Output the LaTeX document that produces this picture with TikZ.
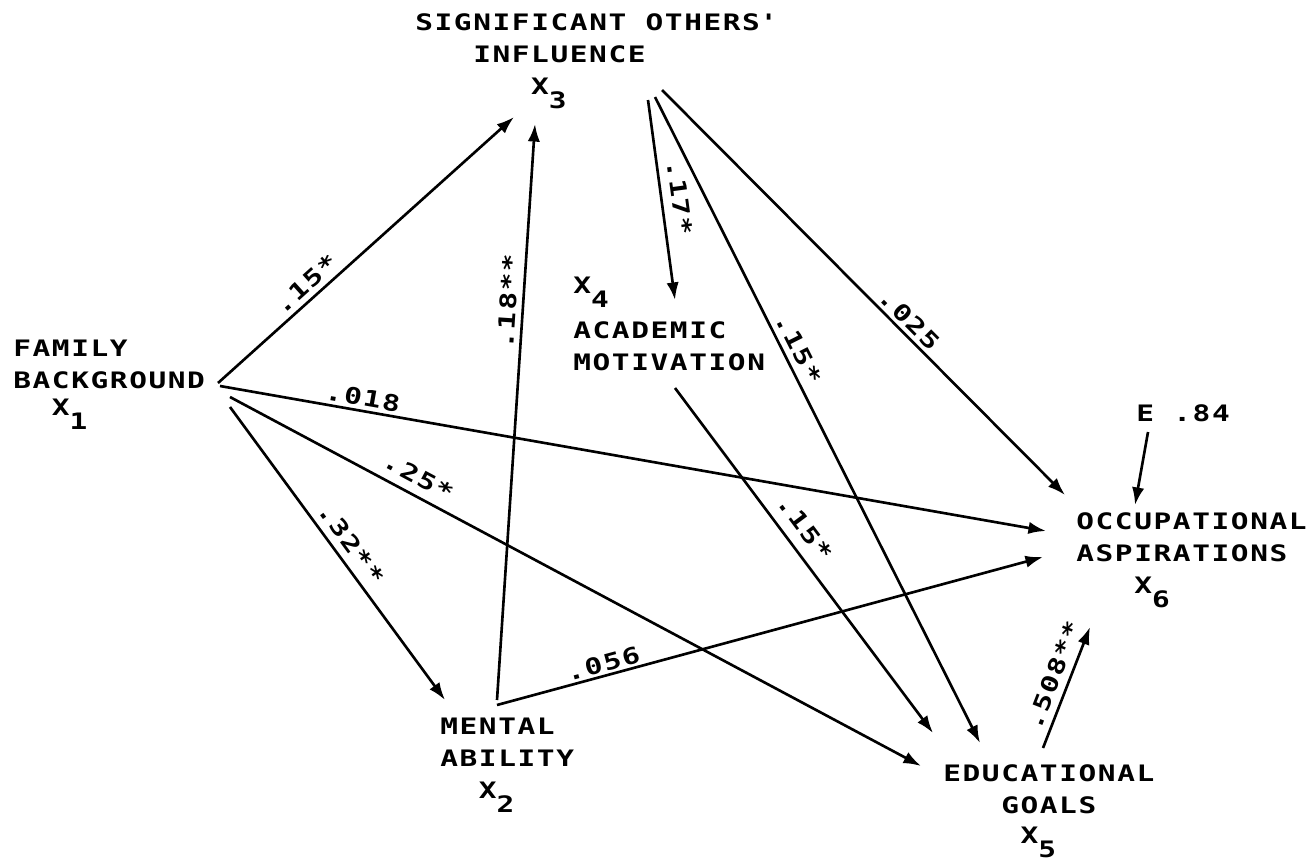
\documentclass[tikz,border=0pt]{standalone}
\usepackage{fontspec}
\usepackage{tikz}
\usetikzlibrary{arrows.meta}
\newfontfamily\plotfont{DejaVu Sans Mono}[LetterSpace=7,FakeStretch=1.3]
\newlength\cw
\setlength\cw{10.99pt}
\newcommand\subn[1]{\raisebox{-8pt}[0pt][0pt]{#1}}

\tikzset{
  var/.style={anchor=north west, inner sep=0pt, align=left,
    font=\plotfont\bfseries\fontsize{12.9}{18.2}\selectfont},
  coef/.style={inner sep=0pt, sloped, font=\plotfont\bfseries\fontsize{12.9}{15}\selectfont},
  link/.style={-{Latex[length=10pt,width=7pt]}, line width=1.5pt}
}

\begin{document}
\begin{tikzpicture}[x=0.02cm, y=-0.02cm]
            \useasboundingbox (0,0) rectangle (1314,862);

            \node[var] (fam) at (13,340) {FAMILY\\BACKGROUND\\[-3pt]\hspace*{2\cw}X\subn{1}};
            \node[var] (sig) at (415,13) {SIGNIFICANT\hspace{\cw}OTHERS\textquotesingle\\\hspace*{3\cw}INFLUENCE\\\hspace*{6\cw}X\subn{3}};
            \node[var] (aca) at (573,277) {X\subn{4}\\[7.4pt]ACADEMIC\\MOTIVATION};
            \node[var] (men) at (440,718) {MENTAL\\ABILITY\\\hspace*{2\cw}X\subn{2}};
            \node[var] (edu) at (943,764) {EDUCATIONAL\\\hspace*{3\cw}GOALS\\[-1pt]\hspace*{4\cw}X\subn{5}};
            \node[var] (occ) at (1076,512) {OCCUPATIONAL\\ASPIRATIONS\\\hspace*{3\cw}X\subn{6}};
            \node[var] (err) at (1136,404) {E\hspace{\cw}.84};

            \coordinate (F1) at (218,383);
            \coordinate (F2) at (220,386);
            \coordinate (F3) at (230,397);
            \coordinate (F4) at (230,407);

            \coordinate (S1) at (514,117);
            \coordinate (S2) at (535,124);
            \coordinate (S3) at (648,100);
            \coordinate (S4) at (655,97);
            \coordinate (S5) at (662,90);

            \coordinate (M1) at (445,700);
            \coordinate (M2) at (497,700);
            \coordinate (M3) at (497,705);

            \coordinate (A1) at (675,300);
            \coordinate (A2) at (675,388);

            \coordinate (G1) at (921,766);
            \coordinate (G2) at (933,733);
            \coordinate (G3) at (980,743);
            \coordinate (G4) at (1043,748);

            \coordinate (O1) at (1046,531);
            \coordinate (O2) at (1043,557);
            \coordinate (O3) at (1065,495);
            \coordinate (O4) at (1090,627);
            \coordinate (O5) at (1135,505);
            \coordinate (E1) at (1148,432);

            \draw[link] (F1) -- node[coef, pos=.33, above=3pt] (c13) {.15*} (S1);
            \draw[link] (F2) -- node[coef, pos=.17, above=2pt] (c16) {.018} (O1);
            \draw[link] (F3) -- node[coef, pos=.26, above=5pt] (c15) {.25*} (G1);
            \draw[link] (F4) -- node[coef, pos=.5, above=4pt] (c12) {.32**} (M1);
            \draw[link] (M2) -- node[coef, pos=.69, above=3pt] (c23) {.18**} (S2);
            \draw[link] (M3) -- node[coef, pos=.2, above=1.5pt] (c26) {.056} (O2);
            \draw[link] (S3) -- node[coef, pos=.5, above=5pt] (c34) {.17*} (A1);
            \draw[link] (S4) -- node[coef, pos=.4, above=3pt] (c35) {.15*} (G3);
            \draw[link] (S5) -- node[coef, pos=.59, above=2pt] (c36) {.025} (O3);
            \draw[link] (A2) -- node[coef, pos=.44, above=6pt] (c45) {.15*} (G2);
            \draw[link] (G4) -- node[coef, pos=.55, above=4pt] (c56) {.508**} (O4);
            \draw[link] (E1) -- (O5);
\end{tikzpicture}
\end{document}
